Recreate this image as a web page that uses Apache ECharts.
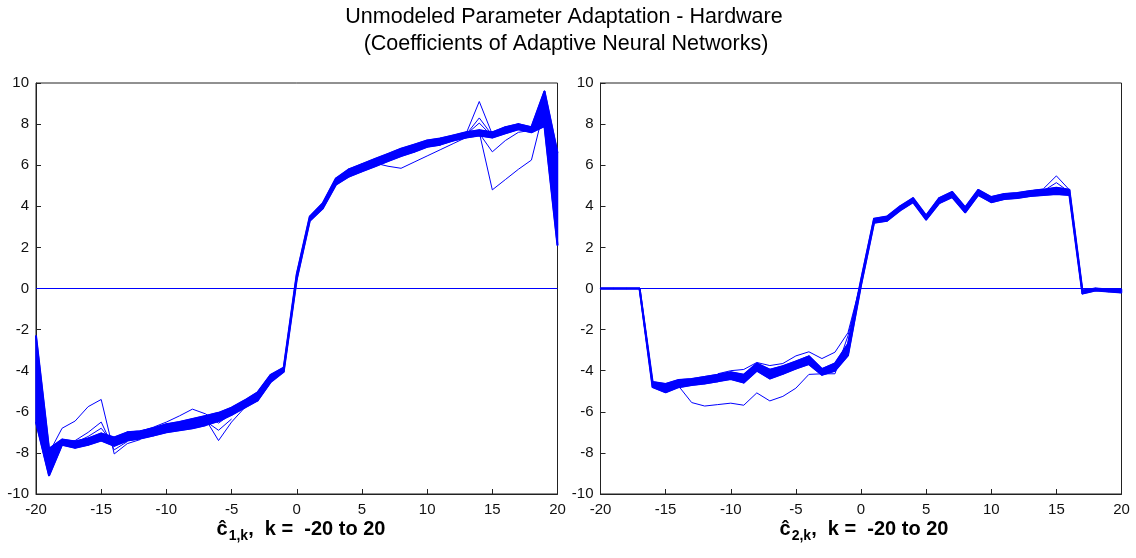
<!DOCTYPE html>
<html>
<head>
<meta charset="utf-8">
<script src="https://cdn.jsdelivr.net/npm/echarts@6/dist/echarts.min.js"></script>
<style>
  html, body { margin: 0; padding: 0; background: #fff; }
  #chart { width: 1136px; height: 558px; }
</style>
</head>
<body>
<div id="chart"></div>
<script>
// Delay index k of the adaptive neural network coefficients
const kValues = [-20,-19,-18,-17,-16,-15,-14,-13,-12,-11,-10,-9,-8,-7,-6,-5,-4,-3,-2,-1,0,
                 1,2,3,4,5,6,7,8,9,10,11,12,13,14,15,16,17,18,19,20];

// c1,k : envelope of the bundle of adapted coefficient runs
const c1Upper = [-2.3,-7.8,-7.35,-7.45,-7.3,-7.05,-7.25,-7.0,-6.95,-6.8,-6.6,-6.5,-6.35,-6.2,-6.05,-5.8,-5.45,-5.05,-4.2,-3.85,0.7,
                 3.5,4.15,5.35,5.8,6.05,6.3,6.55,6.8,7.0,7.2,7.3,7.45,7.6,7.7,7.6,7.85,8.0,7.85,9.6,6.6];
const c1Lower = [-6.5,-9.1,-7.6,-7.75,-7.6,-7.4,-7.65,-7.4,-7.3,-7.15,-7.0,-6.9,-6.8,-6.65,-6.45,-6.15,-5.8,-5.45,-4.55,-4.05,0.45,
                 3.3,3.9,5.05,5.45,5.7,5.95,6.2,6.45,6.65,6.9,7.0,7.2,7.35,7.45,7.35,7.55,7.75,7.6,7.9,2.1];

// c1,k : individual runs that leave the bundle, as [k, value]
const c1RunA = [[-19,-8.0],[-18,-6.8],[-17,-6.45],[-16,-5.75],[-15,-5.4],[-14,-8.05],[-13,-7.55],[-12,-7.35]];
const c1RunB = [[-19,-8.2],[-18,-7.5],[-17,-7.4],[-16,-7.0],[-15,-6.5],[-14,-7.85],[-13,-7.45]];
const c1RunC = [[-17,-7.5],[-16,-7.2],[-15,-6.8],[-14,-7.6],[-13,-7.3]];
const c1RunD = [[-12,-6.95],[-11,-6.75],[-10,-6.5],[-9,-6.2],[-8,-5.87],[-7,-6.1],[-6,-6.55],[-5,-6.1]];
const c1RunE = [[-7,-6.35],[-6,-7.4],[-5,-6.5],[-4,-5.8]];
const c1RunF = [[-7,-6.45],[-6,-6.9],[-5,-6.35]];
const c1RunG = [[5,5.9],[6,6.1],[7,5.95],[8,5.85],[9,6.15],[10,6.45],[11,6.75],[12,7.05],[13,7.35],[14,7.6]];
const c1RunH = [[13,7.55],[14,9.1],[15,7.5],[16,7.7]];
const c1RunI = [[13,7.5],[14,8.3],[15,7.45]];
const c1RunJ = [[13,7.5],[14,8.05],[15,7.4]];
const c1RunK = [[14,7.6],[15,4.8],[16,5.3],[17,5.8],[18,6.25],[19,8.8],[20,4.5]];
const c1RunL = [[14,7.55],[15,6.65],[16,7.2],[17,7.6],[18,7.7]];

// c2,k : envelope of the bundle of adapted coefficient runs
const c2Upper = [0,0,0,0,-4.55,-4.65,-4.45,-4.4,-4.3,-4.2,-4.07,-4.2,-3.65,-3.95,-3.78,-3.55,-3.3,-3.92,-3.65,-2.7,0.4,
                 3.4,3.5,4.0,4.4,3.55,4.4,4.7,3.95,4.8,4.45,4.6,4.65,4.75,4.8,4.9,4.8,-0.1,0.0,-0.05,-0.05];
const c2Lower = [0,0,0,0,-4.8,-5.05,-4.8,-4.7,-4.62,-4.52,-4.4,-4.58,-4.0,-4.38,-4.15,-3.9,-3.68,-4.2,-4.0,-3.25,0.15,
                 3.2,3.3,3.8,4.2,3.35,4.15,4.45,3.7,4.55,4.2,4.35,4.4,4.5,4.55,4.6,4.55,-0.25,-0.1,-0.15,-0.2];

// c2,k : individual runs that leave the bundle, as [k, value]
const c2RunP = [[-16,-4.6],[-15,-4.7],[-14,-4.75],[-13,-5.55],[-12,-5.72],[-11,-5.65],[-10,-5.58],[-9,-5.68],[-8,-5.08],
                [-7,-5.47],[-6,-5.25],[-5,-4.85],[-4,-4.18],[-3,-4.15],[-2,-4.15],[-1,-2.3],[0,0.2]];
const c2RunQ = [[-11,-4.15],[-10,-4.0],[-9,-3.94],[-8,-3.6],[-7,-3.75],[-6,-3.65],[-5,-3.28],[-4,-3.08],[-3,-3.41],
                [-2,-3.1],[-1,-2.15],[0,0.3]];
const c2RunR = [[13,4.75],[14,4.85],[15,5.48],[16,4.8]];
const c2RunS = [[14,4.75],[15,5.15],[16,4.7]];

// reference line at zero drawn in both panels
const zeroLine = [[-20,0],[20,0]];

const BLUE = '#0000ff';
const FONT = 'Liberation Sans, Arial, sans-serif';

function pairs(xs, ys) { return xs.map((x, i) => [x, ys[i]]); }

function lineSeries(data, idx, width, extra) {
  return Object.assign({
    type: 'line', xAxisIndex: idx, yAxisIndex: idx, data: data,
    showSymbol: false, symbol: 'none', animation: false, silent: true,
    lineStyle: { color: BLUE, width: width }, itemStyle: { color: BLUE }
  }, extra || {});
}

// Filled ribbon between lower and upper envelopes, one quad per k step
function bandSeries(lower, upper, idx) {
  const segs = [];
  for (let i = 0; i < kValues.length - 1; i++) {
    segs.push([kValues[i], lower[i], upper[i], kValues[i + 1], lower[i + 1], upper[i + 1]]);
  }
  return [
    {
      type: 'custom', xAxisIndex: idx, yAxisIndex: idx, data: segs, silent: true, animation: false,
      encode: { x: [0, 3], y: [1, 2, 4, 5] },
      renderItem: function (params, api) {
        const p = [
          api.coord([api.value(0), api.value(2)]),
          api.coord([api.value(3), api.value(5)]),
          api.coord([api.value(3), api.value(4)]),
          api.coord([api.value(0), api.value(1)])
        ];
        return { type: 'polygon', shape: { points: p },
                 style: { fill: BLUE, stroke: BLUE, lineWidth: 1.5, lineJoin: 'round' } };
      }
    },
    lineSeries(pairs(kValues, lower), idx, 2),
    lineSeries(pairs(kValues, upper), idx, 2)
  ];
}

function axisPair(idx) {
  const common = {
    axisLine: { show: true, onZero: false, lineStyle: { color: '#222', width: 1 } },
    axisTick: { show: true, inside: true, length: 5, lineStyle: { color: '#222', width: 1 } },
    splitLine: { show: false },
    axisLabel: { color: '#111', fontSize: 15, fontFamily: FONT, showMinLabel: true, showMaxLabel: true }
  };
  return {
    x: Object.assign({}, common, { type: 'value', gridIndex: idx, min: -20, max: 20, interval: 5,
      axisLabel: Object.assign({}, common.axisLabel, { margin: 8 }) }),
    y: Object.assign({}, common, { type: 'value', gridIndex: idx, min: -10, max: 10, interval: 2,
      axisLabel: Object.assign({}, common.axisLabel, { margin: 7 }) })
  };
}

const ax0 = axisPair(0), ax1 = axisPair(1);

const c1Runs = [c1RunA, c1RunB, c1RunC, c1RunD, c1RunE, c1RunF, c1RunG, c1RunH, c1RunI, c1RunJ, c1RunK, c1RunL];
const c2Runs = [c2RunP, c2RunQ, c2RunR, c2RunS];

const series = [
  lineSeries(zeroLine, 0, 1),
  lineSeries(zeroLine, 1, 1),
  ...bandSeries(c1Lower, c1Upper, 0),
  ...bandSeries(c2Lower, c2Upper, 1),
  ...c1Runs.map(r => lineSeries(r, 0, 1)),
  ...c2Runs.map(r => lineSeries(r, 1, 1))
];

function xLabel(x, idx) {
  return {
    type: 'text', x: x, y: 529, silent: true,
    style: {
      text: '{c|ĉ}{sub|' + idx + ',k}{n|,  k =  -20 to 20}',
      align: 'center', verticalAlign: 'middle', fill: '#000', font: 'bold 20px ' + FONT,
      rich: {
        c: { fontSize: 20, fontWeight: 'bold', fontFamily: FONT, lineHeight: 30, verticalAlign: 'middle' },
        sub: { fontSize: 14, fontWeight: 'bold', fontFamily: FONT, lineHeight: 14, verticalAlign: 'bottom', padding: [0, 0, 1, 1] },
        n: { fontSize: 20, fontWeight: 'bold', fontFamily: FONT, lineHeight: 30, verticalAlign: 'middle' }
      }
    }
  };
}

const option = {
  backgroundColor: '#fff',
  animation: false,
  grid: [
    { left: 36, top: 83, width: 521.5, height: 411, show: true, borderColor: '#222', borderWidth: 1,
      backgroundColor: '#fff', containLabel: false, outerBoundsMode: 'none' },
    { left: 600.5, top: 83, width: 521, height: 411, show: true, borderColor: '#222', borderWidth: 1,
      backgroundColor: '#fff', containLabel: false, outerBoundsMode: 'none' }
  ],
  xAxis: [ax0.x, ax1.x],
  yAxis: [ax0.y, ax1.y],
  series: series,
  graphic: [
    { type: 'text', x: 564, y: 17.5, silent: true,
      style: { text: 'Unmodeled Parameter Adaptation - Hardware', align: 'center', verticalAlign: 'middle',
               fill: '#000', font: '21.5px ' + FONT } },
    { type: 'text', x: 566, y: 44, silent: true,
      style: { text: '(Coefficients of Adaptive Neural Networks)', align: 'center', verticalAlign: 'middle',
               fill: '#000', font: '21.5px ' + FONT } },
    xLabel(301, 1),
    xLabel(864, 2)
  ]
};

const chart = echarts.init(document.getElementById('chart'), null, { renderer: 'canvas' });
chart.setOption(option);
</script>
</body>
</html>
